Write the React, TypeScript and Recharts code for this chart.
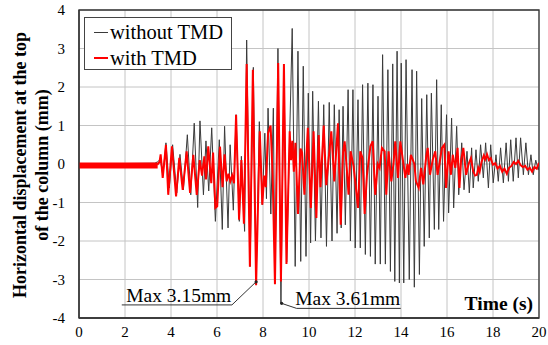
import React from 'react';
import {
  LineChart,
  Line,
  XAxis,
  YAxis,
  CartesianGrid,
  ReferenceLine,
  ReferenceDot,
  ReferenceArea,
  Legend,
} from 'recharts';

const FONT = '"Liberation Serif", "Times New Roman", serif';

const timeTicks = [0, 2, 4, 6, 8, 10, 12, 14, 16, 18, 20];
const displacementTicks = [-4, -3, -2, -1, 0, 1, 2, 3, 4];
const seriesNames = ['without TMD', 'with TMD'];
const seriesColors = ['#3a3a3a', '#ff0000'];

// [time (s), displacement (mm)]
const withoutTMD: [number, number][] = [
  [0, 0.0], [1.5, 0.01], [3.3, 0.02], [3.42, 0.06], [3.5, 0.1], [3.56, 0.02], [3.65, -0.3],
  [3.78, 0.55], [3.93, -0.62], [4.07, 0.5], [4.25, -0.75], [4.39, 0.25], [4.54, -0.67],
  [4.71, 0.76], [4.86, -0.8], [5.01, 1.06], [5.16, -1.13], [5.26, 1.12], [5.41, -0.8],
  [5.52, 0.6], [5.64, -0.7], [5.77, 0.94], [5.93, -1.49], [6.1, 0.63], [6.23, -1.7],
  [6.33, 0.98], [6.48, -1.66], [6.57, 0.5], [6.71, -1.2], [6.83, 1.28], [6.97, -1.49],
  [7.06, 0.2], [7.2, -1.75], [7.29, 3.22], [7.44, -2.66], [7.58, 2.51], [7.7, -3.12],
  [7.84, 1.1], [7.97, -1.06], [8.08, 0.8], [8.15, -0.9], [8.22, 1.45], [8.34, -1.3],
  [8.45, 1.45], [8.52, -3.1], [8.65, 3.0], [8.78, -3.61], [8.91, 2.41], [9.03, -2.55],
  [9.27, 3.52], [9.4, -2.66], [9.52, 2.93], [9.64, -2.53], [9.75, 2.54], [9.87, -2.4],
  [9.97, 1.84], [10.07, -2.05], [10.16, 1.89], [10.28, -2.0], [10.41, 1.63], [10.52, -1.92],
  [10.64, 1.54], [10.76, -2.14], [10.88, 1.6], [11.0, -2.0], [11.1, 1.54], [11.22, -1.8],
  [11.31, 1.41], [11.4, -1.66], [11.48, 1.5], [11.58, -1.58], [11.7, 1.93], [11.8, -2.0],
  [11.91, 1.93], [12.01, -2.18], [12.13, 1.67], [12.23, -2.18], [12.33, 2.06], [12.45, -2.35],
  [12.56, 2.1], [12.67, -2.4], [12.78, 2.06], [12.88, -2.6], [13.0, 1.76], [13.1, -2.6],
  [13.2, 2.84], [13.32, -2.6], [13.43, 2.45], [13.54, -2.79], [13.64, 2.6], [13.73, -3.05],
  [13.83, 2.93], [13.93, -3.09], [14.01, 2.62], [14.12, -3.09], [14.22, 2.71], [14.36, -3.0],
  [14.48, 2.45], [14.58, -3.2], [14.68, 2.41], [14.8, -2.87], [14.9, 1.7], [15.01, -2.14],
  [15.12, 1.8], [15.23, -1.92], [15.32, 1.84], [15.45, -1.7], [15.55, 2.19], [15.64, -1.7],
  [15.75, 1.54], [15.85, -1.49], [15.98, 1.28], [16.07, -1.27], [16.2, 1.19], [16.29, -1.14],
  [16.42, 0.98], [16.51, -0.8], [16.64, 0.55], [16.74, -0.67], [16.87, 0.33], [16.97, -0.75],
  [17.07, 0.42], [17.14, -0.62], [17.26, 0.37], [17.36, -0.45], [17.46, 0.5], [17.58, -0.36],
  [17.68, 0.55], [17.8, -0.62], [17.9, 0.5], [18.01, -0.49], [18.13, 0.24], [18.23, -0.45],
  [18.33, 0.42], [18.45, -0.49], [18.57, 0.55], [18.67, -0.45], [18.77, 0.63], [18.88, -0.45],
  [19.0, 0.68], [19.1, -0.36], [19.2, 0.68], [19.32, -0.28], [19.43, 0.55], [19.54, -0.28],
  [19.65, 0.24], [19.75, -0.28], [19.86, 0.1], [19.97, -0.15], [20.0, -0.05],
];

const withTMDQuiet: [number, number][] = [[0, -0.04], [3.42, -0.04]];

const withTMD: [number, number][] = [
  [3.4, -0.02], [3.5, 0.05], [3.55, 0.25], [3.64, -0.36], [3.78, 0.5], [3.88, -0.8],
  [4.04, 0.46], [4.22, -0.84], [4.36, 0.16], [4.51, -0.67], [4.68, 0.33], [4.83, -0.75],
  [4.97, 0.24], [5.12, -0.8], [5.25, 0.1], [5.35, -0.3], [5.45, 0.2], [5.52, -0.4],
  [5.62, 0.46], [5.75, -0.5], [5.83, 0.3], [5.93, -1.14], [6.01, -1.1], [6.13, 0.45],
  [6.24, -0.6], [6.33, 0.25], [6.42, -0.45], [6.5, -0.25], [6.58, -0.45], [6.66, -0.3],
  [6.74, -0.5], [6.83, 1.28], [6.96, -1.45], [7.06, 0.1], [7.17, -1.55], [7.29, 2.6],
  [7.43, -2.67], [7.56, 2.45], [7.7, -3.15], [7.86, 0.85], [7.97, -1.06], [8.05, -0.3],
  [8.12, -0.6], [8.22, 0.8], [8.33, 1.0], [8.42, -0.3], [8.52, -3.12], [8.66, 2.62],
  [8.78, -3.05], [8.91, 2.6], [9.02, -2.6], [9.16, 0.85], [9.22, 0.1], [9.28, 0.6],
  [9.34, -0.2], [9.41, 0.55], [9.52, -1.3], [9.63, 0.4], [9.7, 0.3], [9.8, -0.8],
  [9.95, 0.94], [10.08, -1.14], [10.2, 0.85], [10.32, -1.4], [10.42, 0.75], [10.5, -0.6],
  [10.64, 1.0], [10.75, -0.55], [10.85, 0.1], [10.97, 0.85], [11.1, -0.45], [11.26, 1.06],
  [11.38, -1.58], [11.48, 0.3], [11.55, 0.59], [11.64, -0.1], [11.72, -0.8], [11.81, 0.33],
  [11.94, -0.06], [12.01, -0.45], [12.13, -1.14], [12.23, 0.33], [12.33, 0.15], [12.42, -1.3],
  [12.52, -0.28], [12.67, 0.46], [12.77, 0.59], [12.88, -0.8], [12.99, 0.0], [13.07, -0.1],
  [13.17, 0.42], [13.29, 0.33], [13.36, -0.8], [13.46, 0.33], [13.58, -0.45], [13.68, 0.05],
  [13.75, 0.59], [13.87, -0.36], [13.97, 0.59], [14.07, 0.15], [14.19, -0.36], [14.28, 0.0],
  [14.33, -0.28], [14.43, 0.24], [14.58, 0.0], [14.65, -0.45], [14.77, -0.62], [14.87, -0.1],
  [14.97, -0.53], [15.09, 0.16], [15.16, 0.42], [15.26, -0.28], [15.38, 0.11], [15.49, 0.33],
  [15.59, -0.28], [15.67, 0.0], [15.78, 0.42], [15.88, 0.5], [15.96, -0.62], [16.07, 0.33],
  [16.17, -0.28], [16.25, 0.24], [16.36, -0.1], [16.46, 0.42], [16.54, -0.62], [16.61, 0.07],
  [16.71, 0.42], [16.83, -0.28], [16.94, 0.0], [17.04, 0.15], [17.14, -0.19], [17.22, -0.3],
  [17.3, -0.28], [17.36, -0.1], [17.42, -0.2], [17.5, 0.05], [17.6, 0.22], [17.66, 0.12],
  [17.74, 0.25], [17.82, 0.1], [17.9, 0.15], [18.0, -0.02], [18.1, 0.02], [18.2, -0.12],
  [18.3, -0.05], [18.4, -0.2], [18.5, -0.12], [18.6, -0.25], [18.7, -0.1], [18.8, -0.05],
  [18.9, 0.05], [19.0, 0.0], [19.1, 0.08], [19.2, -0.03], [19.3, -0.08], [19.4, -0.05],
  [19.5, -0.15], [19.6, -0.1], [19.7, -0.2], [19.8, -0.08], [19.9, -0.12], [20.0, 0.03],
];

// annotation leader lines (data units) and texts
const annotationTexts = ['Max 3.15mm', 'Max 3.61mm'];
const annotation315Path: [number, number][] = [[1.86, -3.66], [6.65, -3.66], [7.7, -3.06]];
const annotation361Path: [number, number][] = [[8.81, -3.62], [9.46, -3.75], [13.99, -3.75]];
const annotationTextAnchors: [number, number][] = [[2.05, -3.4], [9.4, -3.48]];

const toPoints = (arr: [number, number][]) => arr.map(([t, d]) => ({ t, d }));

const renderLegend = () => (
  <div
    style={{
      width: 146,
      height: 51,
      border: '1px solid #444',
      background: '#fff',
      position: 'relative',
      fontFamily: FONT,
      fontSize: 20.5,
      color: '#000',
    }}
  >
    {seriesNames.map((name, i) => (
      <div
        key={name}
        style={{
          position: 'absolute',
          left: 9,
          top: i === 0 ? 2 : 28,
          height: 24,
          display: 'flex',
          alignItems: 'center',
          whiteSpace: 'nowrap',
          lineHeight: '24px',
        }}
      >
        <span
          style={{
            display: 'inline-block',
            width: 14,
            height: 0,
            borderTop: `${i === 0 ? 1 : 2}px solid ${seriesColors[i]}`,
            marginRight: 2,
          }}
        />
        <span>{name}</span>
      </div>
    ))}
  </div>
);

const renderYTitle = (props: any) => {
  const vb = props.viewBox || { x: 0, y: 10, width: 79, height: 308 };
  const cy = vb.y + vb.height / 2 + 1;
  const common = {
    textAnchor: 'middle' as const,
    dominantBaseline: 'central' as const,
    fontFamily: FONT,
    fontWeight: 'bold',
    fontSize: 18,
    fill: '#000',
  };
  return (
    <g>
      <text transform={`translate(${vb.x + 20}, ${cy}) rotate(-90)`} {...common}>
        Horizontal displacement at the top
      </text>
      <text transform={`translate(${vb.x + 42}, ${cy}) rotate(-90)`} {...common}>
        of the column (mm)
      </text>
    </g>
  );
};

const renderXTitle = (props: any) => {
  const vb = props.viewBox || { x: 79, y: 318, width: 460, height: 27 };
  return (
    <text
      x={vb.x + vb.width - 6}
      y={vb.y - 15}
      textAnchor="end"
      dominantBaseline="central"
      fontFamily={FONT}
      fontWeight="bold"
      fontSize={19.5}
      fill="#000"
    >
      Time (s)
    </text>
  );
};

const tickStyle = { fontFamily: FONT, fontSize: 15, fill: '#000' };
const leaderStyle = { stroke: '#333', strokeWidth: 1 };

const segs = (path: [number, number][]) =>
  path.slice(1).map((p, i) => [
    { x: path[i][0], y: path[i][1] },
    { x: p[0], y: p[1] },
  ]);

export default function App() {
  return (
    <div style={{ position: 'absolute', left: 0, top: 0, width: 548, height: 345, background: '#fff' }}>
      <LineChart width={548} height={345} margin={{ top: 10, right: 9, bottom: 0, left: 0 }}>
        <CartesianGrid stroke="#c4c4c4" strokeWidth={1} />
        <XAxis
          type="number"
          dataKey="t"
          domain={[0, 20]}
          ticks={timeTicks}
          interval={0}
          height={27}
          tickLine={false}
          tickSize={0}
          tickMargin={8}
          tick={tickStyle}
          axisLine={{ stroke: '#333', strokeWidth: 1.3 }}
          allowDataOverflow
          label={renderXTitle}
        />
        <YAxis
          type="number"
          domain={[-4, 4]}
          ticks={displacementTicks}
          interval={0}
          width={79}
          tickLine={false}
          tickSize={0}
          tickMargin={14}
          tick={tickStyle}
          axisLine={{ stroke: '#333', strokeWidth: 1.3 }}
          allowDataOverflow
          label={renderYTitle}
        />
        <Legend
          content={renderLegend}
          layout="horizontal"
          verticalAlign="middle"
          wrapperStyle={{ left: 84, top: 17, width: 148, height: 53 }}
        />
        <Line
          data={toPoints(withoutTMD)}
          dataKey="d"
          name={seriesNames[0]}
          type="linear"
          stroke={seriesColors[0]}
          strokeWidth={1}
          dot={false}
          activeDot={false}
          isAnimationActive={false}
        />
        <Line
          data={toPoints(withTMDQuiet)}
          dataKey="d"
          name="quiet"
          legendType="none"
          type="linear"
          stroke={seriesColors[1]}
          strokeWidth={6}
          dot={false}
          activeDot={false}
          isAnimationActive={false}
        />
        <Line
          data={toPoints(withTMD)}
          dataKey="d"
          name={seriesNames[1]}
          type="linear"
          stroke={seriesColors[1]}
          strokeWidth={2}
          dot={false}
          activeDot={false}
          isAnimationActive={false}
        />
        <ReferenceArea x1={0} x2={20} y1={-4} y2={4} fill="none" stroke="#333" strokeWidth={1.3} />
        {[...segs(annotation315Path), ...segs(annotation361Path)].map((s, i) => (
          <ReferenceLine key={`seg${i}`} segment={s} {...leaderStyle} />
        ))}
        <ReferenceDot x={annotation315Path[2][0]} y={annotation315Path[2][1]} r={1.6} fill="#222" stroke="none" />
        <ReferenceDot x={annotation361Path[0][0]} y={annotation361Path[0][1]} r={1.6} fill="#222" stroke="none" />
        {annotationTexts.map((txt, i) => (
          <ReferenceDot
            key={txt}
            x={annotationTextAnchors[i][0]}
            y={annotationTextAnchors[i][1]}
            r={0}
            fill="none"
            stroke="none"
            label={{
              value: txt,
              position: 'right',
              offset: 0,
              fill: '#000',
              fontSize: 19.5,
              fontFamily: FONT,
            }}
          />
        ))}
      </LineChart>
    </div>
  );
}
